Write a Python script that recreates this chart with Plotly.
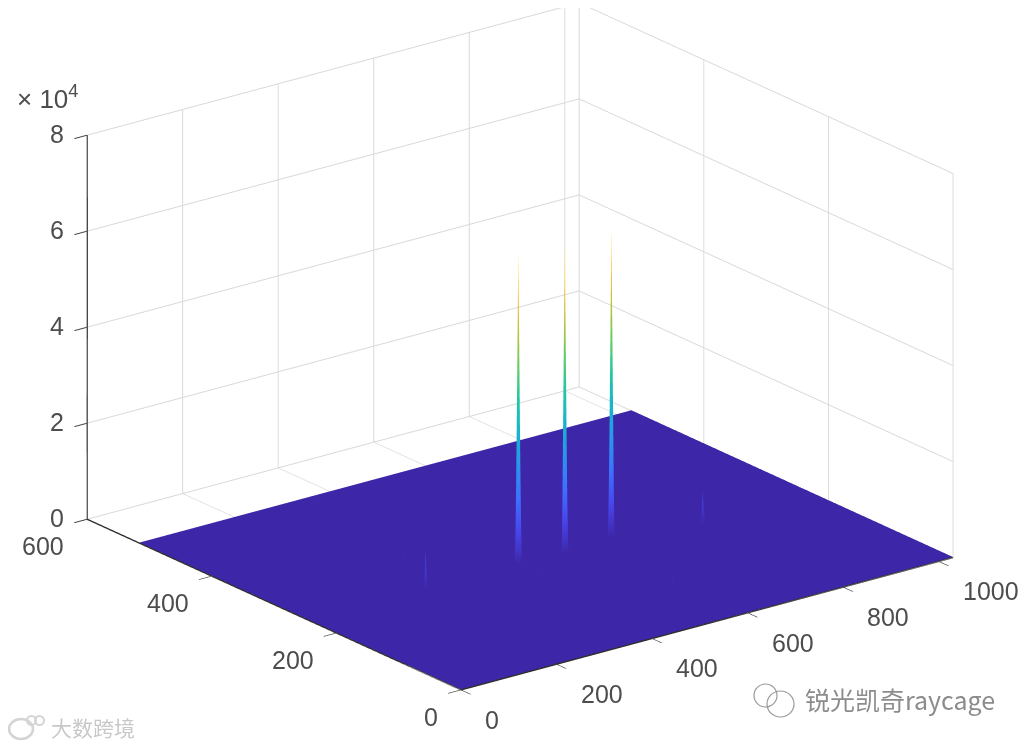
import plotly.graph_objects as go

# Tall peaks
peak_x = [437, 529, 637]
peak_y = [243, 239, 247]
peak_z = [65500, 65500, 64500]
# Faint secondary bumps
bump_x = [243, 797, 293, 426, 582]
bump_y = [243, 223, 315, 196, 107]
bump_z = [8000, 7000, 1500, 1500, 1500]
floor_z = 120

x_end = 1030
y_end = 516
peak_half_width = 6
bump_half_width = 3

x_ticks = [0, 200, 400, 600, 800, 1000]
y_ticks = [0, 200, 400, 600]
z_ticks = [0, 20000, 40000, 60000, 80000]
z_labels = ["0", "2", "4", "6", "8"]

parula = [
    [0.00, "#3e26a8"], [0.10, "#4746eb"], [0.20, "#3e70fe"], [0.30, "#2b95ee"],
    [0.40, "#16b4d0"], [0.50, "#1fc8a4"], [0.60, "#5fcc6a"], [0.70, "#b2c638"],
    [0.80, "#f3bb3a"], [0.90, "#fcd72f"], [1.00, "#f9fb15"],
]

TICK_FONT = dict(family="Liberation Sans", size=25, color="#4d4d4d")
PAGE_W, PAGE_H, PAGE_INSET = 1030, 747, 9


def axis_nodes(peaks, bumps, end):
    nodes = {0, end}
    for c in peaks:
        nodes.update([c - peak_half_width, c, c + peak_half_width])
    for c in bumps:
        nodes.update([c - bump_half_width, c, c + bump_half_width])
    return sorted(nodes)


def page_x(px):
    return (px - PAGE_INSET) / PAGE_W


def page_y(py):
    return 1 - (py - PAGE_INSET) / PAGE_H


xs = axis_nodes(peak_x, bump_x, x_end)
ys = axis_nodes(peak_y, bump_y, y_end)
zs = [[floor_z for _ in xs] for _ in ys]
for cx, cy, cz in zip(peak_x + bump_x, peak_y + bump_y, peak_z + bump_z):
    zs[ys.index(cy)][xs.index(cx)] = cz

axis_style = dict(
    showbackground=False,
    showgrid=True,
    gridcolor="#d8d8d8",
    gridwidth=2,
    zeroline=False,
    showline=True,
    linecolor="#2e2e2e",
    linewidth=3,
    ticks="outside",
    ticklen=16,
    tickcolor="#404040",
    tickwidth=2,
    showticklabels=False,
    title=dict(text=""),
    showspikes=False,
)

tick_notes = []
for v in x_ticks:
    tick_notes.append(dict(x=v, y=0, z=0, text=str(v), showarrow=False, font=TICK_FONT,
                           xanchor="left", yanchor="middle", xshift=22, yshift=-30))
for v in y_ticks:
    tick_notes.append(dict(x=0, y=v, z=0, text=str(v), showarrow=False, font=TICK_FONT,
                           xanchor="right", yanchor="middle", xshift=-21, yshift=-27))
for v, label in zip(z_ticks, z_labels):
    tick_notes.append(dict(x=0, y=600, z=v, text=label, showarrow=False, font=TICK_FONT,
                           xanchor="right", yanchor="middle", xshift=-21, yshift=1))

fig = go.Figure(
    go.Surface(
        x=xs,
        y=ys,
        z=zs,
        cmin=0,
        cmax=68000,
        colorscale=parula,
        showscale=False,
        hoverinfo="skip",
        lighting=dict(ambient=1, diffuse=0, specular=0, roughness=1, fresnel=0),
    )
)

logo_rings = [
    (755, 685, 778, 708, "#9a9a9a", 1.2),
    (768, 692, 795, 718, "#9a9a9a", 1.2),
    (10, 720, 34, 740, "#d4d4d4", 2.5),
    (28, 717, 37, 726, "#d4d4d4", 2),
    (36, 717, 45, 726, "#d4d4d4", 2),
]

centre = dict(x=0.018, y=-0.014, z=-0.028)
view = dict(x=-0.687, y=-0.895, z=0.422)

fig.update_layout(
    width=PAGE_W,
    height=PAGE_H,
    margin=dict(l=0, r=0, t=0, b=0),
    paper_bgcolor="white",
    showlegend=False,
    scene=dict(
        domain=dict(x=[0.01, 1], y=[0.07, 1]),
        bgcolor="white",
        xaxis=dict(axis_style, range=[0, x_end], tickvals=x_ticks),
        yaxis=dict(axis_style, range=[0, 600], tickvals=y_ticks),
        zaxis=dict(axis_style, range=[0, 80000], tickvals=z_ticks, ticktext=z_labels),
        aspectmode="manual",
        aspectratio=dict(x=1.785, y=1.767, z=1.18),
        camera=dict(
            projection=dict(type="orthographic"),
            eye=dict(x=view["x"] + centre["x"], y=view["y"] + centre["y"], z=view["z"] + centre["z"]),
            center=centre,
            up=dict(x=0, y=0, z=1),
        ),
        annotations=tick_notes,
    ),
    annotations=[
        dict(text="× 10<sup>4</sup>", x=page_x(16), y=page_y(98), xref="paper", yref="paper",
             showarrow=False, font=dict(family="Liberation Sans", size=26, color="#4d4d4d"),
             xanchor="left", yanchor="middle"),
        dict(text="锐光凯奇raycage", x=page_x(804), y=page_y(700), xref="paper", yref="paper",
             showarrow=False, font=dict(family="Noto Sans CJK SC", size=25, color="#8c8c8c"),
             xanchor="left", yanchor="middle"),
        dict(text="大数跨境", x=page_x(50), y=page_y(728), xref="paper", yref="paper",
             showarrow=False, font=dict(family="Noto Sans CJK SC", size=21, color="#c8c8c8"),
             xanchor="left", yanchor="middle"),
    ],
    shapes=[
        dict(type="circle", xref="paper", yref="paper",
             x0=page_x(a), y0=page_y(b), x1=page_x(c), y1=page_y(d),
             line=dict(color=col, width=w))
        for a, b, c, d, col, w in logo_rings
    ],
)

fig.write_html("out.html")
